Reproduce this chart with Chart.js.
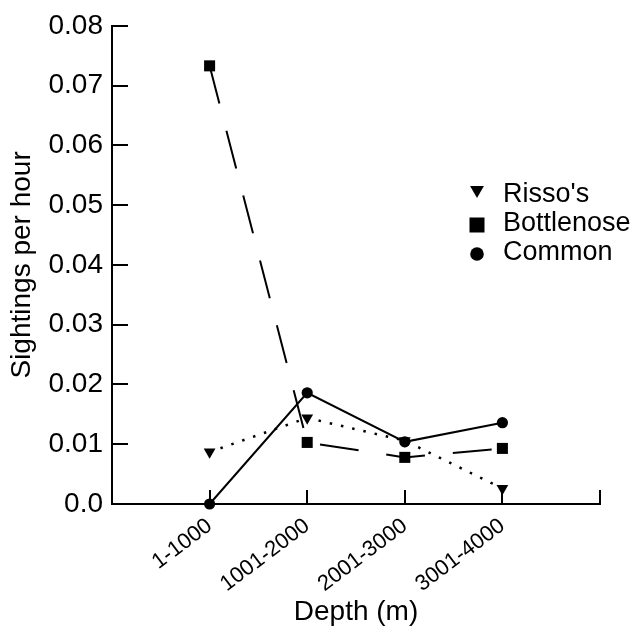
<!DOCTYPE html>
<html>
<head>
<meta charset="utf-8">
<script src="https://cdn.jsdelivr.net/npm/chart.js@4.4.1/dist/chart.umd.min.js"></script>
<style>
  html, body { margin: 0; padding: 0; background: #fff; }
  #wrap { width: 637px; height: 635px; position: relative; }
</style>
</head>
<body>
<div id="wrap"><canvas id="chart"></canvas></div>
<script>
// values
const depths = ['1-1000', '1001-2000', '2001-3000', '3001-4000'];
const risso = [0.0087, 0.0144, 0.0106, 0.0026];
const bottlenose = [0.0733, 0.0103, 0.0078, 0.0093];
const common = [0.0, 0.0186, 0.0104, 0.0136];
const yTickLabels = ['0.0', '0.01', '0.02', '0.03', '0.04', '0.05', '0.06', '0.07', '0.08'];
const speciesNames = ["Risso's", 'Bottlenose', 'Common'];

const FONT = 'Arial, "Liberation Sans", Helvetica, sans-serif';

const toPoints = (vals) => vals.map((v, i) => ({ x: i + 1, y: v }));

// inward tick marks, as in the original figure
const innerTicks = {
    id: 'innerTicks',
    afterDraw(chart) {
        const { ctx, chartArea, scales } = chart;
        ctx.save();
        ctx.strokeStyle = '#000';
        ctx.lineWidth = 2;
        ctx.beginPath();
        scales.y.ticks.forEach((t) => {
            const py = Math.round(scales.y.getPixelForValue(t.value));
            ctx.moveTo(chartArea.left, py);
            ctx.lineTo(chartArea.left + 16, py);
        });
        scales.x.ticks.forEach((t) => {
            if (t.value < 1) return;
            const px = Math.round(scales.x.getPixelForValue(t.value));
            ctx.moveTo(px, chartArea.bottom);
            ctx.lineTo(px, chartArea.bottom - 14);
        });
        ctx.stroke();
        ctx.restore();
    }
};

// legend drawn inside the plot, like the figure
const innerLegend = {
    id: 'innerLegend',
    afterDraw(chart) {
        const ctx = chart.ctx;
        const mx = 477, tx = 503;
        const rows = [195, 224, 253];
        ctx.save();
        ctx.fillStyle = '#000';
        // triangle down
        let y = rows[0] - 5, r = 8;
        ctx.beginPath();
        ctx.moveTo(mx - r * 0.866, y - r / 2);
        ctx.lineTo(mx + r * 0.866, y - r / 2);
        ctx.lineTo(mx, y + r);
        ctx.closePath();
        ctx.fill();
        // square
        ctx.fillRect(mx - 7.5, rows[1] + 1 - 7.5, 15, 15);
        // circle
        ctx.beginPath();
        ctx.arc(mx, rows[2] + 1, 6.8, 0, Math.PI * 2);
        ctx.fill();
        ctx.font = '27px ' + FONT;
        ctx.textBaseline = 'middle';
        ctx.textAlign = 'left';
        speciesNames.forEach((n, i) => ctx.fillText(n, tx, rows[i]));
        ctx.restore();
    }
};

new Chart(document.getElementById('chart'), {
    type: 'line',
    data: {
        datasets: [
            {
                label: speciesNames[0],
                data: toPoints(risso),
                borderColor: '#000',
                backgroundColor: '#000',
                borderWidth: 2.5,
                borderDash: [2.5, 9],
                pointStyle: 'triangle',
                rotation: 180,
                pointRadius: 6.8,
                pointBorderWidth: 0,
                order: 2,
                clip: false
            },
            {
                label: speciesNames[1],
                data: toPoints(bottlenose),
                borderColor: '#000',
                backgroundColor: '#000',
                borderWidth: 2,
                borderDash: [39, 28],
                pointStyle: 'rect',
                pointRadius: 7.8,
                pointBorderWidth: 0,
                order: 1,
                clip: false
            },
            {
                label: speciesNames[2],
                data: toPoints(common),
                borderColor: '#000',
                backgroundColor: '#000',
                borderWidth: 2,
                pointStyle: 'circle',
                pointRadius: 5.6,
                pointBorderWidth: 0,
                order: 0,
                clip: false
            }
        ]
    },
    options: {
        responsive: true,
        maintainAspectRatio: false,
        animation: false,
        layout: { padding: { left: 0, top: 20, right: 37, bottom: 0 } },
        plugins: {
            legend: { display: false },
            tooltip: { enabled: false }
        },
        scales: {
            x: {
                type: 'linear',
                min: 0,
                max: 5,
                grid: { display: false, drawTicks: false },
                border: { display: true, color: '#000', width: 2 },
                ticks: {
                    stepSize: 1,
                    autoSkip: false,
                    minRotation: 37,
                    maxRotation: 37,
                    padding: 9,
                    color: '#000',
                    font: { family: FONT, size: 22 },
                    callback: (v) => depths[v - 1] || ''
                },
                title: {
                    display: true,
                    text: 'Depth (m)',
                    color: '#000',
                    font: { family: FONT, size: 28 },
                    padding: { top: 0, bottom: 6 }
                },
                afterFit: (s) => { s.height = 131; }
            },
            y: {
                min: 0,
                max: 0.08,
                grid: { display: false, drawTicks: false },
                border: { display: true, color: '#000', width: 2 },
                ticks: {
                    stepSize: 0.01,
                    padding: 9,
                    color: '#000',
                    font: { family: FONT, size: 28 },
                    callback: (v, i) => yTickLabels[i]
                },
                title: {
                    display: true,
                    text: 'Sightings per hour',
                    color: '#000',
                    font: { family: FONT, size: 28 },
                    padding: { top: 5, bottom: 0 }
                },
                afterFit: (s) => { s.width = 112; }
            }
        }
    },
    plugins: [innerTicks, innerLegend]
});
</script>
</body>
</html>
